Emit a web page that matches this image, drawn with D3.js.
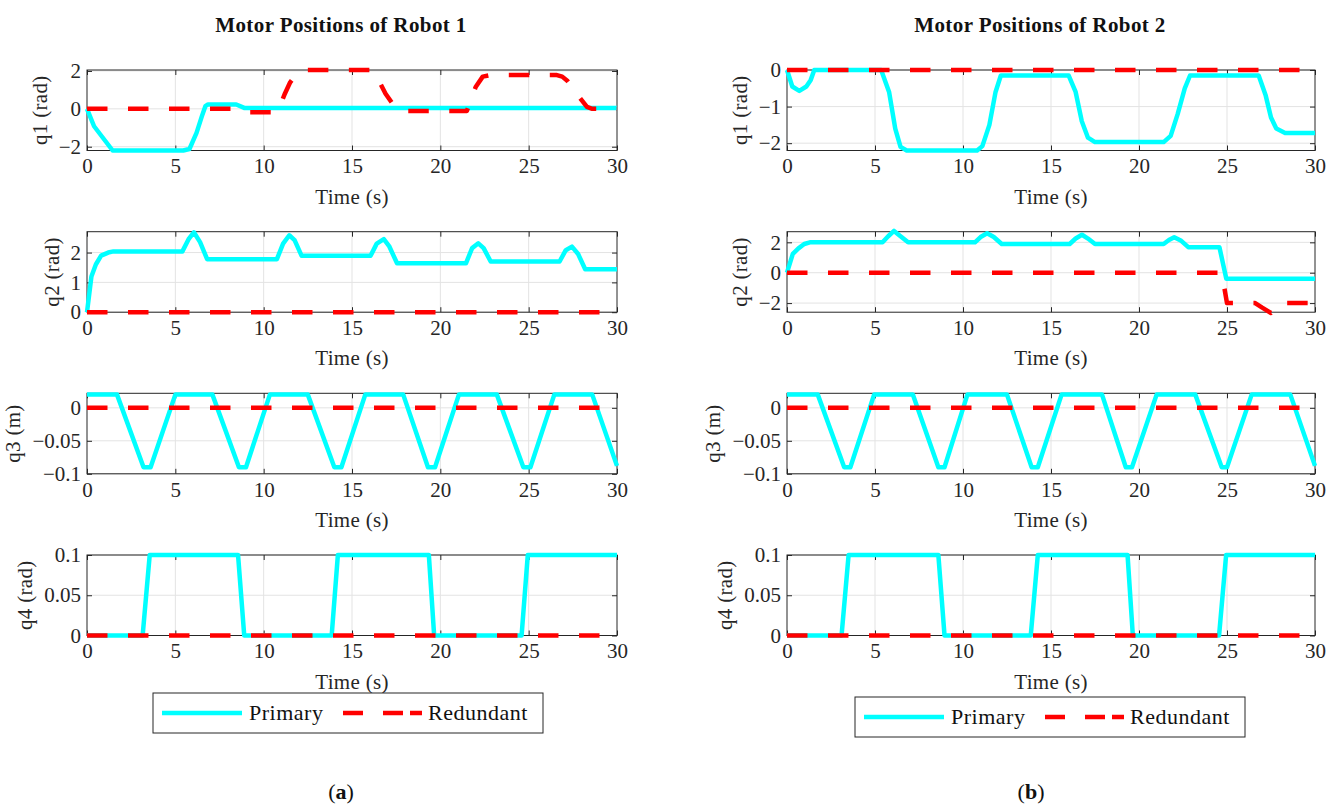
<!DOCTYPE html>
<html><head><meta charset="utf-8">
<script src="https://cdn.jsdelivr.net/npm/d3@7"></script>
<style>
body{margin:0;background:#fff}
svg{display:block}
text{font-family:"Liberation Serif","Times New Roman",serif;fill:#262626}
</style>
</head><body>
<svg id="chart" width="1338" height="806"></svg>
<script>
// ---------------- DATA ----------------
const timeDomain = [0, 30];
const timeTicks = [0, 5, 10, 15, 20, 25, 30];
const xLabel = "Time (s)";
const robotTitles = ["Motor Positions of Robot 1", "Motor Positions of Robot 2"];
const captionLetters = ["a", "b"];
const yLabels = ["q1 (rad)", "q2 (rad)", "q3 (m)", "q4 (rad)"];
const legendLabels = ["Primary", "Redundant"];
const seriesColors = ["#00ffff", "#ff0000"];

// Robot 1 y-axes
const r1YDomains = [[-2.2, 2.05], [0, 2.7], [-0.1, 0.022], [0, 0.1]];
const r1YTicks = [[-2, 0, 2], [0, 1, 2], [-0.1, -0.05, 0], [0, 0.05, 0.1]];
// Robot 2 y-axes
const r2YDomains = [[-2.2, 0], [-2.6, 2.7], [-0.1, 0.022], [0, 0.1]];
const r2YTicks = [[-2, -1, 0], [-2, 0, 2], [-0.1, -0.05, 0], [0, 0.05, 0.1]];

// Robot 1 series [time, value]
const r1q1Primary = [[0,0],[0.4,-0.92],[1.45,-2.2],[5.45,-2.2],[5.8,-2.12],[6.2,-1.27],[6.5,-0.4],[6.7,0.14],[6.85,0.23],[8.45,0.23],[8.9,0.05],[30,0.05]];
const r1q1Redundant = [[0,0],[8.8,0],[9.2,-0.18],[10.7,-0.18],[10.9,0.1],[11.2,0.8],[11.5,1.4],[11.9,1.9],[12.3,2.05],[16.2,2.05],[16.4,1.7],[16.9,0.8],[17.5,0.0],[17.9,-0.12],[21.5,-0.12],[21.7,0.4],[22.0,1.15],[22.4,1.7],[22.8,1.78],[26.6,1.78],[26.9,1.7],[27.2,1.47],[27.5,1.1],[27.9,0.58],[28.3,0.1],[28.6,0],[30,0]];
const r1q2Primary = [[0,0],[0.25,1.2],[0.5,1.6],[0.8,1.9],[1.2,2.0],[1.5,2.04],[5.4,2.04],[5.75,2.45],[6.05,2.68],[6.4,2.35],[6.8,1.78],[10.75,1.78],[11.1,2.3],[11.45,2.58],[11.75,2.42],[12.15,1.89],[16.05,1.89],[16.4,2.3],[16.8,2.45],[17.1,2.22],[17.55,1.64],[21.45,1.64],[21.8,2.15],[22.15,2.31],[22.45,2.15],[22.85,1.7],[26.75,1.7],[27.1,2.08],[27.45,2.2],[27.8,1.95],[28.2,1.44],[30,1.44]];
const r1q2Redundant = [[0,0],[30,0]];
const r1q3Primary = [[0,0.02],[1.7,0.02],[3.2,-0.09],[3.6,-0.09],[5.0,0.02],[7.1,0.02],[8.6,-0.09],[9.0,-0.09],[10.35,0.02],[12.5,0.02],[14.0,-0.09],[14.4,-0.09],[15.75,0.02],[17.9,0.02],[19.3,-0.09],[19.7,-0.09],[21.05,0.02],[23.2,0.02],[24.7,-0.09],[25.1,-0.09],[26.45,0.02],[28.6,0.02],[30,-0.088]];
const r1q3Redundant = [[0,0],[30,0]];
const r1q4Primary = [[0,0],[3.15,0],[3.55,0.1],[8.55,0.1],[8.9,0],[13.85,0],[14.2,0.1],[19.35,0.1],[19.65,0],[24.6,0],[24.95,0.1],[30,0.1]];
const r1q4Redundant = [[0,0],[30,0]];

// Robot 2 series [time, value]
const r2q1Primary = [[0,0],[0.3,-0.45],[0.7,-0.57],[1.1,-0.45],[1.35,-0.27],[1.55,0],[5.35,0],[5.8,-0.6],[6.15,-1.6],[6.45,-2.1],[6.8,-2.2],[10.8,-2.2],[11.1,-2.08],[11.5,-1.5],[11.85,-0.6],[12.15,-0.15],[16.0,-0.15],[16.4,-0.6],[16.75,-1.4],[17.1,-1.85],[17.5,-1.97],[21.4,-1.97],[21.8,-1.8],[22.2,-1.2],[22.6,-0.5],[22.9,-0.15],[26.8,-0.15],[27.2,-0.7],[27.5,-1.3],[27.8,-1.6],[28.3,-1.72],[30,-1.72]];
const r2q1Redundant = [[0,0],[30,0]];
const r2q2Primary = [[0,0],[0.33,1.24],[0.65,1.6],[0.98,1.89],[1.3,2.0],[5.43,2.0],[5.75,2.4],[6.08,2.75],[6.45,2.4],[6.88,2.0],[10.68,2.0],[11.0,2.35],[11.37,2.6],[11.75,2.35],[12.2,1.89],[16.06,1.89],[16.4,2.25],[16.76,2.5],[17.1,2.25],[17.5,1.89],[21.4,1.89],[21.7,2.15],[22.0,2.33],[22.4,2.1],[22.8,1.68],[24.57,1.68],[24.96,-0.4],[30,-0.4]];
const r2q2Redundant = [[0,0],[24.7,0],[24.85,-1.0],[25.0,-2.0],[26.6,-2.0],[27.0,-2.3],[27.5,-2.65],[27.8,-2.3],[28.0,-2.0],[30,-2.0]];
const r2q3Primary = [[0,0.02],[1.75,0.02],[3.25,-0.09],[3.6,-0.09],[4.95,0.02],[7.15,0.02],[8.6,-0.09],[8.95,-0.09],[10.25,0.02],[12.5,0.02],[13.9,-0.09],[14.25,-0.09],[15.6,0.02],[17.9,0.02],[19.25,-0.09],[19.6,-0.09],[21.0,0.02],[23.2,0.02],[24.7,-0.09],[25.0,-0.09],[26.4,0.02],[28.6,0.02],[30,-0.088]];
const r2q3Redundant = [[0,0],[30,0]];
const r2q4Primary = [[0,0],[3.1,0],[3.5,0.1],[8.6,0.1],[8.95,0],[13.85,0],[14.25,0.1],[19.35,0.1],[19.65,0],[24.55,0],[24.95,0.1],[30,0.1]];
const r2q4Redundant = [[0,0],[30,0]];

const robots = [
  { yDomains: r1YDomains, yTicks: r1YTicks,
    primary: [r1q1Primary, r1q2Primary, r1q3Primary, r1q4Primary],
    redundant: [r1q1Redundant, r1q2Redundant, r1q3Redundant, r1q4Redundant] },
  { yDomains: r2YDomains, yTicks: r2YTicks,
    primary: [r2q1Primary, r2q2Primary, r2q3Primary, r2q4Primary],
    redundant: [r2q1Redundant, r2q2Redundant, r2q3Redundant, r2q4Redundant] }
];

// ---------------- LAYOUT ----------------
const colLeft = [87, 787];
const colWidth = [530, 528];
const rowTop = [70, 231.7, 393.3, 555];
const boxH = 80.5;
const legendPos = [[153, 693], [855, 697]];
const legendW = 390, legendH = 40;
const titleX = [341, 1040];
const captionX = [341, 1031];

const ink = "#262626";
const gridColor = "#e3e3e3";
const lw = 4.5;
const dash = "20.5,20.5";
const FONT = '"Liberation Serif","Times New Roman",serif';
const fmt = v => (v < 0 ? "\u2212" : "") + String(Math.abs(v));

const svg = d3.select("#chart");

robots.forEach((rb, ci) => {
  const left = colLeft[ci], w = colWidth[ci];
  const x = d3.scaleLinear().domain(timeDomain).range([0, w]);

  svg.append("text").attr("x", titleX[ci]).attr("y", 32)
    .attr("text-anchor", "middle").style("font-family", FONT).style("font-size", "21px")
    .style("font-weight", "bold").attr("letter-spacing", 0.4).style("fill", "#111").text(robotTitles[ci]);

  for (let ri = 0; ri < 4; ri++) {
    const top = rowTop[ri];
    const y = d3.scaleLinear().domain(rb.yDomains[ri]).range([boxH, 0]);
    const g = svg.append("g").attr("transform", `translate(${left},${top})`);

    // grid
    g.append("g").selectAll("line").data(timeTicks.slice(1, -1)).join("line")
      .attr("x1", d => x(d)).attr("x2", d => x(d)).attr("y1", 0).attr("y2", boxH)
      .attr("stroke", gridColor).attr("stroke-width", 1);
    g.append("g").selectAll("line").data(rb.yTicks[ri]).join("line")
      .attr("x1", 0).attr("x2", w).attr("y1", d => y(d)).attr("y2", d => y(d))
      .attr("stroke", gridColor).attr("stroke-width", 1);

    // axes
    const axB = g.append("g").attr("transform", `translate(0,${boxH})`)
      .call(d3.axisBottom(x).tickValues(timeTicks).tickFormat(fmt).tickSize(-5).tickPadding(8));
    const axT = g.append("g")
      .call(d3.axisTop(x).tickValues(timeTicks).tickFormat("").tickSize(-5));
    const axL = g.append("g")
      .call(d3.axisLeft(y).tickValues(rb.yTicks[ri]).tickFormat(fmt).tickSize(-5).tickPadding(6));
    const axR = g.append("g").attr("transform", `translate(${w},0)`)
      .call(d3.axisRight(y).tickValues(rb.yTicks[ri]).tickFormat("").tickSize(-5));
    [axB, axT, axL, axR].forEach(a => {
      a.select(".domain").remove();
      a.selectAll(".tick line").attr("stroke", ink).attr("stroke-width", 1);
      a.selectAll("text").style("font-size", "21px").style("font-family", FONT).style("fill", ink);
    });
    g.append("rect").attr("width", w).attr("height", boxH)
      .attr("fill", "none").attr("stroke", ink).attr("stroke-width", 1);

    // lines
    const line = d3.line().x(d => x(d[0])).y(d => y(d[1]));
    g.append("path").datum(rb.primary[ri]).attr("d", line)
      .attr("fill", "none").attr("stroke", seriesColors[0]).attr("stroke-width", lw)
      .attr("stroke-linejoin", "round");
    g.append("path").datum(rb.redundant[ri]).attr("d", line)
      .attr("fill", "none").attr("stroke", seriesColors[1]).attr("stroke-width", lw)
      .attr("stroke-dasharray", dash).attr("stroke-linejoin", "round");

    // x label
    g.append("text").attr("x", w / 2).attr("y", boxH + 53)
      .attr("text-anchor", "middle").style("font-family", FONT).style("font-size", "21px")
      .attr("letter-spacing", 0.3).text(xLabel);

    // y label positioned left of tick labels
    let minX = 0;
    axL.selectAll("text").each(function () {
      const b = this.getBBox();
      minX = Math.min(minX, b.x);
    });
    g.append("text")
      .attr("transform", `translate(${minX - 12},${boxH / 2}) rotate(-90)`)
      .attr("text-anchor", "middle").style("font-family", FONT).style("font-size", "21px")
      .attr("letter-spacing", 0.3).text(yLabels[ri]);
  }

  // legend
  const [lx, ly] = legendPos[ci];
  const lg = svg.append("g").attr("transform", `translate(${lx},${ly})`);
  lg.append("rect").attr("width", legendW).attr("height", legendH)
    .attr("fill", "#fff").attr("stroke", ink).attr("stroke-width", 1);
  lg.append("line").attr("x1", 9).attr("x2", 89).attr("y1", 20).attr("y2", 20)
    .attr("stroke", seriesColors[0]).attr("stroke-width", lw);
  lg.append("text").attr("x", 96).attr("y", 27).style("font-family", FONT).style("font-size", "22px")
    .attr("letter-spacing", 0.5).style("fill", "#111").text(legendLabels[0]);
  lg.append("line").attr("x1", 190).attr("x2", 269).attr("y1", 20).attr("y2", 20)
    .attr("stroke", seriesColors[1]).attr("stroke-width", lw)
    .attr("stroke-dasharray", "20,20,20,7,12");
  lg.append("text").attr("x", 275).attr("y", 27).style("font-family", FONT).style("font-size", "22px")
    .attr("letter-spacing", 0.5).style("fill", "#111").text(legendLabels[1]);

  // caption
  const cap = svg.append("text").attr("x", captionX[ci]).attr("y", 799)
    .attr("text-anchor", "middle").style("font-family", FONT).style("font-size", "22px").style("fill", "#111");
  cap.append("tspan").text("(");
  cap.append("tspan").style("font-weight", "bold").text(captionLetters[ci]);
  cap.append("tspan").text(")");
});
</script>
</body></html>
